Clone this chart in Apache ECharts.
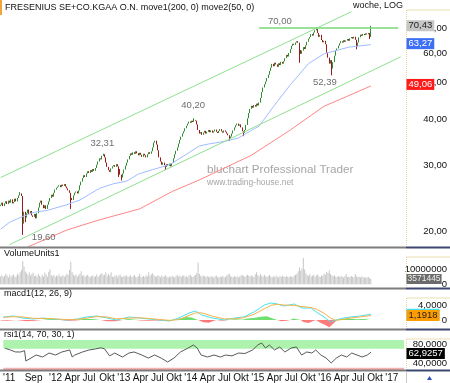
<!DOCTYPE html>
<html><head><meta charset="utf-8">
<script src="https://cdn.jsdelivr.net/npm/echarts@6/dist/echarts.min.js"></script>
<style>html,body{margin:0;padding:0;background:#fff;overflow:hidden}#c{width:450px;height:383px}</style>
</head><body><div id="c"></div>
<script>
// ---------------- DATA ----------------
const TITLE = 'FRESENIUS SE+CO.KGAA O.N. move1(200, 0) move2(50, 0)';
const START_WEEK = '2011-03-21';
const N_SLOTS = 311;
const firstOpen = 23.4;
const closes = [
23.6,23.9,23.4,23.8,24.1,
23.7,24.2,23.9,24.4,23.8,24.0,24.5,24.1,
24.6,25.0,25.3,24.9,
22.2,
22.6,21.8,22.4,22.9,22.3,22.7,22.1,
21.9,22.3,21.7,22.4,
23.2,23.9,24.2,23.6,
23.1,23.5,23.0,23.6,24.1,
24.6,25.1,24.8,25.4,25.9,26.2,
26.4,26.6,26.3,26.7,26.5,26.8,26.4,26.1,25.8,25.4,
24.6,24.3,25.0,
25.4,25.6,25.3,25.8,26.6,
27.2,27.8,28.3,28.0,28.6,
29.0,28.7,29.2,28.9,29.4,29.1,29.6,30.2,
30.8,31.4,31.2,31.9,32.2,31.6,30.6,
29.8,29.2,28.9,29.5,29.9,
30.1,29.8,30.3,29.9,29.4,28.4,
27.9,28.6,
29.3,30.0,30.6,31.2,31.9,32.4,32.1,32.6,32.3,32.8,32.4,32.0,32.5,
32.1,31.7,32.3,32.0,31.6,32.2,32.6,32.3,32.8,33.6,
34.6,35.0,34.2,33.0,
31.6,30.8,30.2,30.6,30.1,29.8,30.3,
30.0,30.4,29.9,30.5,
31.4,32.2,32.9,33.6,34.4,
35.2,35.9,36.6,37.1,37.8,38.4,
38.9,39.4,39.1,39.6,39.3,39.8,39.6,38.7,
37.4,36.6,36.9,36.3,
36.8,37.2,36.6,37.0,37.4,36.9,37.3,36.8,37.1,37.5,37.0,36.7,37.2,37.6,37.1,36.8,37.3,37.0,36.6,36.2,35.6,
35.9,36.6,37.3,38.0,
38.5,38.9,38.4,38.7,38.0,37.1,
36.7,37.4,38.6,
40.2,41.5,42.6,43.4,42.9,43.6,43.2,44.0,
43.5,44.3,45.6,
47.2,48.6,49.6,50.4,51.5,
52.6,53.8,54.9,
56.2,55.4,56.6,56.0,55.2,56.4,55.8,56.9,56.3,57.1,
58.2,59.4,58.8,60.1,61.5,
62.8,63.6,63.2,64.1,
64.6,64.0,61.2,59.8,
61.0,62.3,61.6,63.0,
64.4,65.6,66.3,67.5,66.9,68.2,69.1,69.6,
68.0,66.4,67.2,
65.1,64.2,64.8,63.4,
60.2,58.4,56.3,57.5,
54.6,56.8,
59.1,60.9,61.8,62.9,
63.8,64.6,64.1,65.0,64.4,64.9,65.5,64.8,
65.8,66.3,65.7,66.4,65.2,
62.6,64.1,
66.2,67.3,66.8,67.6,67.1,67.8,67.4,68.0,
66.3,70.43
];
const wickLowWeeks  = [17,18,19,54,91,93,127,176,187,230,255,274,284];
const wickLowValues = [19.6,21.0,21.2,23.0,28.0,27.4,29.2,35.0,36.0,56.6,52.39,61.5,65.5];
const wickHighWeeks  = [15,79,149,243,285];
const wickHighValues = [25.5,32.31,40.2,70.0,71.0];

const ma50Weeks  = [0,7,15,25,36,51,61,76,86,97,106,117,130,143,153,160,173,183,193,199,210,223,237,249,268,285];
const ma50Values = [20.3,21.2,21.8,22.5,22.8,23.6,24.3,26.1,26.8,27.3,28.5,29.3,30.2,32.2,33.9,34.3,34.9,35.6,37.3,38.3,43.2,49.4,56.3,59.8,62.3,63.27];
const ma200Weeks  = [21,51,76,107,132,153,193,223,249,266,285];
const ma200Values = [18.2,20.2,21.5,23.0,25.6,27.5,32.0,37.4,43.3,45.9,49.06];

const upperChannelWeeks = [0,270],  upperChannelValues = [27.9,77.5];
const lowerChannelWeeks = [7,308],  lowerChannelValues = [18.47,58.7];
const resistanceWeeks = [199,306],  resistanceValue = 70.0;
const annotWeeks  = [17,79,149,215,255];
const annotValues = [19.60,32.31,40.20,70.00,52.39];

const volumesM = [
5.2,6.1,4.8,5.5,7.0,5.9,4.6,6.3,5.1,5.8,
6.6,4.9,5.4,7.2,6.0,8.1,9.4,15.3,11.8,8.6,
7.4,6.2,8.0,5.7,6.9,7.7,5.3,6.1,5.0,6.8,
5.6,4.7,6.4,5.2,7.9,6.6,5.1,8.3,10.1,6.0,
5.4,6.2,4.8,5.9,5.3,6.7,4.9,5.6,6.1,5.0,
5.8,7.1,6.4,9.5,15.0,8.2,6.3,5.7,6.6,5.1,
5.9,6.8,8.7,5.5,6.2,4.9,5.8,6.4,5.2,4.7,
5.6,6.0,4.9,5.3,6.5,5.0,5.7,6.9,7.4,5.8,
6.3,8.1,5.4,7.0,5.9,8.0,5.2,4.8,5.5,6.1,
4.6,5.9,6.6,5.1,4.9,5.7,5.2,6.0,4.8,5.4,
5.9,4.7,5.3,6.2,5.0,4.6,5.5,6.8,5.1,4.9,
5.6,4.8,6.1,5.2,8.0,5.5,6.7,7.3,6.0,5.4,
5.0,6.2,5.3,4.7,5.8,4.9,5.4,6.0,5.1,4.6,
5.2,4.8,5.7,5.0,4.5,5.6,6.3,5.1,5.9,4.8,
5.5,6.1,5.0,5.4,4.7,5.8,6.4,5.2,4.9,5.6,
6.2,7.5,14.6,6.8,5.7,5.0,5.9,5.3,4.8,5.5,
5.1,4.7,5.6,5.0,4.4,5.3,5.8,4.9,4.6,5.2,
4.8,5.5,4.5,5.0,5.9,6.6,7.0,5.4,5.1,4.7,
5.3,4.9,5.6,4.6,5.2,5.9,6.2,5.5,4.8,5.7,
6.4,5.8,5.1,6.0,5.3,4.9,6.7,8.0,6.1,5.4,
6.9,5.7,5.0,6.3,5.4,4.8,5.6,6.2,5.1,4.7,
5.3,4.9,5.8,5.0,4.6,5.5,4.9,5.7,5.2,4.8,
5.4,5.0,4.7,5.6,5.1,4.8,5.9,6.4,7.1,8.6,
11.2,9.0,10.3,17.6,9.8,7.2,6.0,5.5,6.8,5.2,
5.7,6.3,5.0,5.8,6.6,5.4,4.9,6.1,5.5,7.0,
6.4,8.3,7.6,9.2,6.8,5.9,5.3,6.0,5.1,4.8,
5.5,4.9,5.7,5.1,4.6,5.3,6.8,4.9,5.2,4.7,
5.6,5.0,4.5,6.9,5.4,4.8,5.1,4.6,5.3,4.4,
4.9,4.3,4.7,5.0,4.2,3.571445
];

const macdWeeks = [2,10,17,25,33,40,51,59,66,74,82,89,99,107,114,122,130,137,145,150,155,163,172,180,187,195,203,208,213,218,226,232,239,243,249,254,258,264,269,277,285];
const macdValues = [0.8,1.07,0.53,0.27,0.53,0.27,0,0.27,0.8,1.07,0.53,0,0.8,0.53,0.27,0,-0.27,0.53,1.87,2.4,1.33,0.53,0,0.53,0.8,2.13,4.0,4.53,4.27,3.73,4.27,3.2,3.2,2.13,0.8,-0.53,0,0.53,0.8,1.07,1.55];
const signalValues = [0.7,0.9,0.8,0.45,0.4,0.35,0.1,0.15,0.5,0.9,0.8,0.3,0.5,0.6,0.4,0.15,-0.1,0.1,1.2,1.9,1.9,1.0,0.3,0.3,0.6,1.5,3.0,3.9,4.2,4.0,3.9,3.6,3.3,2.9,1.8,0.5,-0.1,0.2,0.5,0.85,1.1918];
const histWeeks = [0,5,12,20,26,32,36,41,46,52,58,62,66,72,77,82,88,94,98,104,108,114,120,128,134,138,143,147,152,156,160,166,170,176,180,186,190,196,200,205,209,213,216,220,223,225,228,231,233,237,241,243,245,249,253,256,259,262,268,274,280,285];
const histValues = [-0.1,-0.2,0,-0.3,-0.2,0,0.2,0.3,0,-0.2,-0.1,0.2,0.35,0.2,0,-0.3,-0.3,0,0.3,0.1,-0.1,-0.2,-0.15,-0.2,0,0.4,0.8,0.7,0,-0.6,-0.7,0,-0.2,0,0.2,0.1,0.4,0.6,0.9,1.0,0.5,0,-0.3,-0.2,0,0.4,0.2,0,-0.5,-0.8,-0.2,0,-0.5,-1.2,-1.9,-1.0,0,0.3,0.4,0.2,0.3,0.36];

const rsiWeeks = [1,5,9,13,16,17,21,25,30,35,40,45,51,53,55,61,66,71,75,78,82,86,92,97,101,107,112,117,122,127,132,137,143,147,150,153,158,163,168,172,177,182,187,193,197,200,203,206,210,214,218,223,227,231,235,239,242,246,250,254,258,262,266,270,274,278,282,285];
const rsiValues = [70.9,67.4,63.2,63.2,66.0,44.2,50.5,56.8,52.6,61.0,56.8,63.2,67.4,52.6,56.8,63.2,67.4,69.5,72.0,70.0,55.0,61.0,52.6,61.0,63.2,56.8,50.5,56.8,50.5,42.1,50.5,63.2,71.6,77.9,71.6,56.8,52.6,56.8,52.6,56.8,55.0,61.0,60.0,67.4,77.9,82.1,71.6,77.9,67.4,73.7,63.2,71.6,73.7,56.8,63.2,61.0,67.4,56.8,50.5,40.0,50.5,56.8,52.6,61.0,56.8,52.6,56.8,62.9257];
const rsiUpper = 70, rsiLower = 30;

const priceTicks = [20,30,40,50,60,70];
const volumeTicks = [0,10000000];
const macdTicks = [0,4];
const rsiTicks = [40,80];
const xTickDates = ['2011-04-18','2011-08-29','2011-12-26','2012-03-26','2012-06-25','2012-10-01','2012-12-31','2013-04-01','2013-07-01','2013-09-30','2013-12-30','2014-03-31','2014-06-30','2014-09-29','2014-12-29','2015-03-30','2015-06-29','2015-09-28','2015-12-28','2016-03-28','2016-06-27','2016-09-26','2016-12-26'];
const xTickLabels = ["'11","Sep","'12","Apr","Jul","Okt","'13","Apr","Jul","Okt","'14","Apr","Jul","Okt","'15","Apr","Jul","Okt","'16","Apr","Jul","Okt","'17"];

// ---------------- BUILD ----------------
const FONT = "'Liberation Sans', Arial, sans-serif";
const DAY = 86400000;
const t0 = Date.parse(START_WEEK + 'T00:00:00Z');
const categories = [];
for (let i = 0; i < N_SLOTS; i++) categories.push(new Date(t0 + i * 7 * DAY).toISOString().slice(0, 10));
const weekOf = s => Math.round((Date.parse(s + 'T00:00:00Z') - t0) / (7 * DAY));
const tickMap = {};
xTickDates.forEach((d, k) => { tickMap[weekOf(d)] = xTickLabels[k]; });
const ln = Math.log;
const fmt = (v, d) => v.toFixed(d).replace('.', ',');

const lowOver = {}, highOver = {};
wickLowWeeks.forEach((w, k) => lowOver[w] = wickLowValues[k]);
wickHighWeeks.forEach((w, k) => highOver[w] = wickHighValues[k]);
const candleData = closes.map((c, i) => {
  const o = i ? closes[i - 1] : firstOpen;
  let l = Math.min(o, c), h = Math.max(o, c);
  if (lowOver[i] != null) l = Math.min(l, lowOver[i]);
  if (highOver[i] != null) h = Math.max(h, highOver[i]);
  return [ln(o), ln(c), ln(l), ln(h)];
});
const pairs = (weeks, vals, tf) => weeks.map((w, k) => [w, tf ? tf(vals[k]) : vals[k]]);

const PRICE_MIN = 18.19, PRICE_MAX = 83.3;
const VOL_MIN = -0.45e6, VOL_MAX = 18.88e6;
const MACD_MIN = -2.13, MACD_MAX = 5.87;
const RSI_MIN = 25.3, RSI_MAX = 88.4;

const hiddenX = gi => ({ type: 'category', gridIndex: gi, data: categories, boundaryGap: true,
  axisLine: { show: false }, axisTick: { show: false }, axisLabel: { show: false }, splitLine: { show: false } });
const yAx = (gi, min, max, ticks, formatter) => ({ type: 'value', gridIndex: gi, position: 'right', min, max,
  splitLine: { show: false }, axisLine: { show: false }, axisTick: { show: false },
  axisLabel: { customValues: ticks, formatter, align: 'right', margin: 43, fontSize: 9.5, color: '#111', fontFamily: FONT,
    showMinLabel: true, showMaxLabel: true } });

const annotOffsets = [[21, 2], [-1, -10], [-1, -13], [0, -7], [-7, 7]];
const lastClose = closes[closes.length - 1];
const lastMa50 = ma50Values[ma50Values.length - 1];
const lastMa200 = ma200Values[ma200Values.length - 1];
const lastVol = volumesM[volumesM.length - 1] * 1e6;
const lastMacd = macdValues[macdValues.length - 1];
const lastSignal = signalValues[signalValues.length - 1];
const lastRsi = rsiValues[rsiValues.length - 1];

const staticGraphics = [
  { type: 'rect', z: 100, shape: { x: 0, y: 0, width: 2, height: 15 }, style: { fill: '#f2a33a' } },
  { type: 'text', z: 100, x: 5, y: 8, style: { text: TITLE, font: '9px ' + FONT, fill: '#111', align: 'left', verticalAlign: 'middle' } },
  { type: 'text', z: 100, x: 403, y: 6, style: { text: 'woche, LOG', font: '9px ' + FONT, fill: '#111', align: 'right', verticalAlign: 'middle' } },
  { type: 'text', z: 1, x: 207, y: 170, style: { text: 'bluchart Professional Trader', font: '11.7px ' + FONT, fill: '#a6a6a6', align: 'left', verticalAlign: 'middle' } },
  { type: 'text', z: 1, x: 207, y: 183, style: { text: 'www.trading-house.net', font: '8.5px ' + FONT, fill: '#a6a6a6', align: 'left', verticalAlign: 'middle' } },
  { type: 'text', z: 100, x: 4, y: 254, style: { text: 'VolumeUnits1', font: '9px ' + FONT, fill: '#111', align: 'left', verticalAlign: 'middle' } },
  { type: 'text', z: 100, x: 4, y: 294, style: { text: 'macd1(12, 26, 9)', font: '9px ' + FONT, fill: '#111', align: 'left', verticalAlign: 'middle' } },
  { type: 'text', z: 100, x: 4, y: 335, style: { text: 'rsi1(14, 70, 30, 1)', font: '9px ' + FONT, fill: '#111', align: 'left', verticalAlign: 'middle' } },
  ...[247.5, 288.5, 329.5, 370.5].flatMap(y => [
    { type: 'line', z: 100, shape: { x1: 0, y1: y, x2: 406, y2: y }, style: { stroke: '#7d7d7d', lineWidth: 2 } },
    { type: 'line', z: 100, shape: { x1: 406, y1: y, x2: 450, y2: y }, style: { stroke: '#3c4670', lineWidth: 2 } }
  ]),
  ...[[10, 246], [257, 287], [298, 328], [339, 369]].flatMap(([a, b]) => [
    { type: 'line', z: 50, shape: { x1: 406.5, y1: a, x2: 450, y2: a }, style: { stroke: '#eadfae', lineWidth: 1 } },
    { type: 'line', z: 50, shape: { x1: 406.5, y1: a, x2: 406.5, y2: b }, style: { stroke: '#e2d49a', lineWidth: 1, lineDash: [1, 1] } }
  ]),
  { type: 'line', z: 100, shape: { x1: 406.5, y1: 371, x2: 406.5, y2: 383 }, style: { stroke: '#c8c8c8', lineWidth: 1 } },
  { type: 'polygon', z: 100, shape: { points: [[427, 380], [429.5, 376], [432, 380]] }, style: { fill: '#2f4fbf' } }
];

const option = {
  animation: false,
  backgroundColor: '#fff',
  grid: [
    { left: 0, right: 44, top: 0, height: 247 },
    { left: 0, right: 44, top: 256, height: 29 },
    { left: 0, right: 44, top: 298, height: 30 },
    { left: 0, right: 44, top: 340, height: 30 }
  ],
  xAxis: [hiddenX(0), hiddenX(1), hiddenX(2), {
    type: 'category', gridIndex: 3, data: categories, boundaryGap: true,
    axisLine: { show: false }, axisTick: { show: false }, splitLine: { show: false },
    axisLabel: { interval: (i) => tickMap[i] !== undefined, formatter: (v, i) => tickMap[i] || '',
      margin: 3, fontSize: 10, color: '#111', fontFamily: FONT, hideOverlap: false }
  }],
  yAxis: [
    yAx(0, ln(PRICE_MIN), ln(PRICE_MAX), priceTicks.map(ln), v => fmt(Math.exp(v), 2)),
    yAx(1, VOL_MIN, VOL_MAX, volumeTicks, v => String(Math.round(v))),
    yAx(2, MACD_MIN, MACD_MAX, macdTicks, v => v === 0 ? '0' : fmt(v, 4)),
    yAx(3, RSI_MIN, RSI_MAX, rsiTicks, v => fmt(v, 4))
  ],
  series: [
    { type: 'line', name: 'move1', xAxisIndex: 0, yAxisIndex: 0, data: pairs(ma200Weeks, ma200Values, ln),
      showSymbol: false, lineStyle: { color: '#ff8585', width: 1 }, silent: true },
    { type: 'line', name: 'move2', xAxisIndex: 0, yAxisIndex: 0, data: pairs(ma50Weeks, ma50Values, ln),
      showSymbol: false, lineStyle: { color: '#9fbcff', width: 1 }, silent: true },
    { type: 'candlestick', xAxisIndex: 0, yAxisIndex: 0, data: candleData, barWidth: 1, silent: true,
      itemStyle: { color: '#2f8f2f', color0: '#9a1b1b', borderColor: '#2f8f2f', borderColor0: '#9a1b1b', borderWidth: 1 },
      markLine: { silent: true, symbol: ['none', 'none'], label: { show: false },
        data: [
          [{ coord: [upperChannelWeeks[0], ln(upperChannelValues[0])], lineStyle: { color: '#8fe08f', width: 1, type: 'solid' } },
           { coord: [upperChannelWeeks[1], ln(upperChannelValues[1])] }],
          [{ coord: [lowerChannelWeeks[0], ln(lowerChannelValues[0])], lineStyle: { color: '#8fe08f', width: 1, type: 'solid' } },
           { coord: [lowerChannelWeeks[1], ln(lowerChannelValues[1])] }],
          [{ coord: [resistanceWeeks[0], ln(resistanceValue)], lineStyle: { color: '#78d878', width: 1.5, type: 'solid' } },
           { coord: [resistanceWeeks[1], ln(resistanceValue)] }]
        ] },
      markPoint: { silent: true, symbol: 'circle', symbolSize: 1, itemStyle: { color: 'rgba(0,0,0,0)' },
        data: annotWeeks.map((w, k) => ({ coord: [w, ln(annotValues[k])],
          label: { show: true, position: 'inside', offset: annotOffsets[k], formatter: fmt(annotValues[k], 2),
            color: '#6e6e6e', fontSize: 9.5, fontFamily: FONT } })) } },
    { type: 'bar', xAxisIndex: 1, yAxisIndex: 1, data: volumesM.map(v => v * 1e6), barWidth: 1, silent: true,
      itemStyle: { color: '#c6c6c6' } },
    { type: 'line', xAxisIndex: 2, yAxisIndex: 2, data: pairs(histWeeks, histValues, v => Math.max(0, v)),
      showSymbol: false, lineStyle: { width: 0 }, areaStyle: { color: '#6fe06f', opacity: 1 }, silent: true },
    { type: 'line', xAxisIndex: 2, yAxisIndex: 2, data: pairs(histWeeks, histValues, v => Math.min(0, v)),
      showSymbol: false, lineStyle: { width: 0 }, areaStyle: { color: '#ff7a7a', opacity: 1 }, silent: true },
    { type: 'line', xAxisIndex: 2, yAxisIndex: 2, data: pairs(macdWeeks, macdValues),
      showSymbol: false, lineStyle: { color: '#45e3ee', width: 1 }, silent: true },
    { type: 'line', xAxisIndex: 2, yAxisIndex: 2, data: pairs(macdWeeks, signalValues),
      showSymbol: false, lineStyle: { color: '#f7b24a', width: 1 }, silent: true },
    { type: 'line', xAxisIndex: 3, yAxisIndex: 3, data: pairs(rsiWeeks, rsiValues),
      showSymbol: false, lineStyle: { color: '#5a5a5a', width: 1 }, silent: true,
      markArea: { silent: true, data: [
        [{ yAxis: rsiUpper, itemStyle: { color: '#adf2ad' } }, { yAxis: RSI_MAX }],
        [{ yAxis: RSI_MIN, itemStyle: { color: '#f7b0b0' } }, { yAxis: rsiLower }]
      ] } }
  ]
};
const chart = echarts.init(document.getElementById('c'), null, { renderer: 'canvas', width: 450, height: 383 });
chart.setOption(option);

// value boxes on the right axis, positioned through the axes' own scales
const boxes = [
  [0, ln(lastMa200), fmt(lastMa200, 2), '#ff1a1a', '#fff', -1.5, 9.5],
  [0, ln(lastMa50), fmt(lastMa50, 2), '#3d6ff5', '#fff', -1, 9.5],
  [0, ln(lastClose), fmt(lastClose, 2), '#c6c6c6', '#222', -1.5, 9.5],
  [1, lastVol, String(Math.round(lastVol)), '#6b6b6b', '#eee', 0, 8.5],
  [2, lastMacd, fmt(lastMacd, 4), '#45e3ee', '#45e3ee', 0, 9.5],
  [2, lastSignal, fmt(lastSignal, 4), '#ff9c00', '#222', 0, 9.5],
  [3, lastRsi, fmt(lastRsi, 4), '#000', '#fff', 1.5, 9.5]
];
const boxGraphics = boxes.map(([gi, v, text, bg, fg, dy, fs]) => ({
  type: 'text', z: 120, x: 406.5, y: chart.convertToPixel({ yAxisIndex: gi }, v) + dy,
  style: { text, font: fs + 'px ' + FONT, fill: fg, backgroundColor: bg, padding: fs < 9 ? [1, 1, 0, 1] : [1, 2, 0, 2],
    align: 'left', verticalAlign: 'middle' }
}));
chart.setOption({ graphic: staticGraphics.concat(boxGraphics) });
</script>
</body></html>
